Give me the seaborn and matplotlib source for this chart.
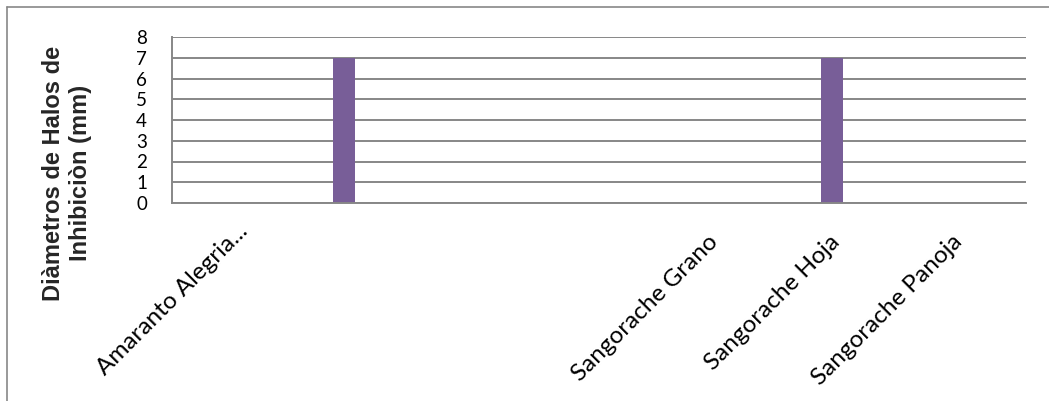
import numpy as np
import pandas as pd
import seaborn as sns
import matplotlib.pyplot as plt
import matplotlib.transforms as mtransforms
from matplotlib.lines import Line2D

# Chart data
categories = ["Amaranto Alegria...", "", "", "", "Sangorache Grano", "Sangorache Hoja", "Sangorache Panoja"]
serie_1 = [0, 7, 0, 0, 0, 7, 0]
serie_2 = [0, 0, 0, 0, 0, 0, 0]
y_ticks = [0, 1, 2, 3, 4, 5, 6, 7, 8]
y_label = "Diàmetros de Halos de\nInhibiciòn (mm)"

n = len(categories)
df = pd.DataFrame({
    "pos": list(range(n)) * 2,
    "valor": serie_1 + serie_2,
    "serie": ["Serie 1"] * n + ["Serie 2"] * n,
})

sns.set_theme(style="white")
plt.rcParams["font.family"] = ["Lato", "DejaVu Sans"]

fig = plt.figure(figsize=(10.49, 4.01), dpi=100)
ax = fig.add_axes([172 / 1049, 1 - 203 / 401, (1026 - 172) / 1049, (203 - 37) / 401])

sns.barplot(data=df, x="pos", y="valor", hue="serie",
            palette=["#785E98", "#4F81BD"], width=0.36, linewidth=0,
            saturation=1, errorbar=None, legend=False, ax=ax)

grid_color = "#878787"
ax.set_ylim(0, 8)
ax.set_xlim(-0.5, n - 0.5)
ax.set_yticks(y_ticks)
ax.set_yticklabels([str(t) for t in y_ticks], fontsize=13.5, color="black")
ax.set_xticks(range(n))
ax.set_xticklabels(categories, rotation=45, ha="right", va="top",
                   rotation_mode="anchor", fontsize=17.5, color="black")
ax.tick_params(axis="x", length=0, pad=20)
ax.tick_params(axis="y", length=0, pad=18)
# nudge the slanted labels a little to the left; the truncated first one sits a bit higher
for i, lbl in enumerate(ax.get_xticklabels()):
    dx, dy = (0.04, 0.1) if i == 0 else (-0.14, 0)
    shift = mtransforms.ScaledTranslation(dx, dy, fig.dpi_scale_trans)
    lbl.set_transform(lbl.get_transform() + shift)
ax.yaxis.grid(True, color=grid_color, linewidth=1.4)
ax.set_axisbelow(True)
ax.set_xlabel("")
ax.set_ylabel("")

for side in ["top", "right"]:
    ax.spines[side].set_visible(False)
for side in ["left", "bottom"]:
    ax.spines[side].set_color(grid_color)
    ax.spines[side].set_linewidth(1.4)

fig.text(67 / 1049, 1 - 173 / 401, y_label, rotation=90, ha="center", va="center",
         multialignment="center", fontsize=17, fontweight="bold",
         family="Liberation Sans", linespacing=1.2)

# outer chart frame (only left and top are visible)
fig.add_artist(Line2D([7 / 1049, 7 / 1049], [0, 1 - 7 / 401], color=grid_color, linewidth=1.2))
fig.add_artist(Line2D([7 / 1049, 1], [1 - 7 / 401, 1 - 7 / 401], color=grid_color, linewidth=1.2))

fig.savefig("out.png", dpi=100, facecolor="white")
